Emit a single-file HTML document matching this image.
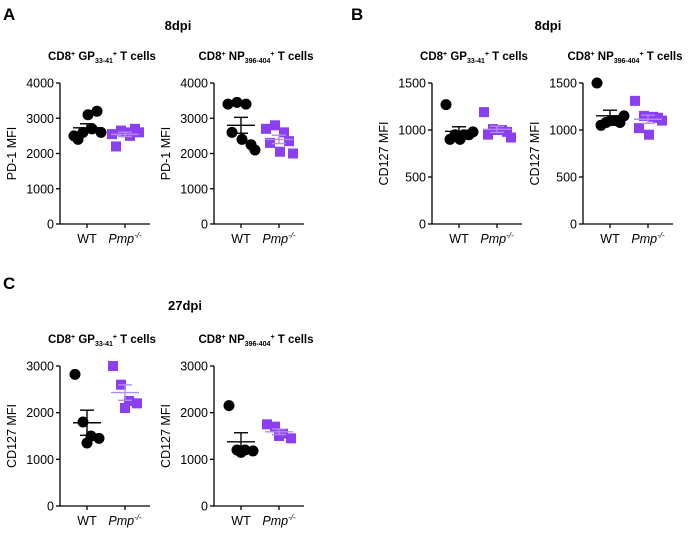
<!DOCTYPE html>
<html><head><meta charset="utf-8"><style>
body{margin:0;background:#fff;width:700px;height:531px;overflow:hidden}
svg{font-family:"Liberation Sans",Arial,sans-serif}
</style></head><body>
<svg id="fig" width="700" height="531">
<g font-weight="bold" font-size="17">
<text x="3" y="20">A</text>
<text x="351" y="20">B</text>
<text x="3" y="289">C</text>
</g>
<g font-weight="bold" font-size="13" text-anchor="middle">
<text x="178" y="30">8dpi</text>
<text x="548" y="30">8dpi</text>
<text x="185" y="310">27dpi</text>
</g>
</svg>
<script>
const panels=["a1","a2","b1","b2","c1","c2"];
const subtitles=["GP","NP","GP","NP","GP","NP"];
const yMax=[4000,4000,1500,1500,3000,3000];
const yTicks=[[0,1000,2000,3000,4000],[0,1000,2000,3000,4000],[0,500,1000,1500],[0,500,1000,1500],[0,1000,2000,3000],[0,1000,2000,3000]];
const yTitles=["PD-1 MFI","PD-1 MFI","CD127 MFI","CD127 MFI","CD127 MFI","CD127 MFI"];
const categories=["WT","Pmp"];
const wtA1=[2500,2600,2700,2600,2400,3100,3200];
const koA1=[2550,2650,2500,2600,2200,2600,2700];
const wtA2=[3400,3450,3400,2100,2600,2400,2250];
const koA2=[2700,2800,2600,2000,2300,2050,2350];
const wtB1=[1270,950,950,980,900,900,950];
const koB1=[1190,1010,1000,920,950,1000,980];
const wtB2=[1500,1080,1100,1150,1050,1100,1080];
const koB2=[1310,1150,1140,1100,1020,950,1130];
const wtC1=[2820,1800,1500,1450,1350];
const koC1=[3000,2600,2250,2200,2100];
const wtC2=[2150,1200,1200,1180,1150];
const koC2=[1750,1700,1550,1450,1500];
const wtSeries=[wtA1,wtA2,wtB1,wtB2,wtC1,wtC2];
const koSeries=[koA1,koA2,koB1,koB2,koC1,koC2];

const geom=[{ax:60,top:83,bot:224},{ax:214,top:83,bot:224},{ax:432,top:83,bot:224},{ax:583,top:83,bot:224},{ax:60,top:366,bot:506},{ax:214,top:366,bot:506}];
const jit7=[-13,-4,5,14,-9,1,10],jit5=[-12,-4,4,12,0];
const NS="http://www.w3.org/2000/svg";
const svg=document.getElementById('fig');
function mk(tag,attrs,parent){const e=document.createElementNS(NS,tag);for(const k in attrs)e.setAttribute(k,attrs[k]);(parent||svg).appendChild(e);return e;}
function stats(a){const m=a.reduce((s,v)=>s+v,0)/a.length;const sd=Math.sqrt(a.reduce((s,v)=>s+(v-m)*(v-m),0)/(a.length-1));return [m,sd/Math.sqrt(a.length)];}
panels.forEach((p,i)=>{
  const g=geom[i];const ax=g.ax;const xr=ax+90;
  const y=v=>g.bot-(v/yMax[i])*(g.bot-g.top);
  const xc=[ax+27,ax+65];
  const grp=mk('g',{});
  
  
  const st=mk('text',{x:ax+42,y:g.top-23,'font-size':'11.5','font-weight':'bold','text-anchor':'middle'},grp);
  
  
  const sub=subtitles[i]==="GP"?"33-41":"396-404";
  st.innerHTML='CD8<tspan font-size="7" dy="-4">+</tspan><tspan dy="4"> '+subtitles[i]+'</tspan><tspan font-size="7" dy="3">'+sub+'</tspan><tspan font-size="7" dy="-7">+</tspan><tspan dy="4"> T cells</tspan>';
  const yl=mk('line',{x1:ax,y1:g.top,x2:ax,y2:g.bot,stroke:'#000','stroke-width':1.3},grp);
  
  
  const xl=mk('line',{x1:ax,y1:g.bot,x2:xr,y2:g.bot,stroke:'#000','stroke-width':1.3},grp);
  
  
  yTicks[i].forEach(t=>{
    mk('line',{x1:ax-4,y1:y(t),x2:ax,y2:y(t),stroke:'#000','stroke-width':1.3},grp);
    const tl=mk('text',{x:ax-6,y:y(t)+4.5,'font-size':'12.5','text-anchor':'end'},grp);
    tl.textContent=t;
    
    
  });
  const yt=mk('text',{transform:`translate(${ax-44},${(g.top+g.bot)/2}) rotate(-90)`,'font-size':'12.5','text-anchor':'middle'},grp);
  yt.textContent=yTitles[i];
  
  
  categories.forEach((c,k)=>{
    mk('line',{x1:xc[k],y1:g.bot,x2:xc[k],y2:g.bot+4,stroke:'#000','stroke-width':1.3},grp);
    const xlab=mk('text',{x:xc[k],y:g.bot+19,'font-size':'12.5','text-anchor':'middle'},grp);
    if(c==="WT")xlab.textContent="WT";else xlab.innerHTML='<tspan font-style="italic">Pmp</tspan><tspan font-size="8" dy="-5" font-style="italic">-/-</tspan>';
    
    
  });
  [wtSeries[i],koSeries[i]].forEach((arr,k)=>{
    const col=k===0?'#000':'#8a3ff0';
    const jit=arr.length===7?jit7:jit5;
    arr.forEach((v,j)=>{
      let m;
      if(k===0){m=mk('circle',{cx:xc[0]+jit[j],cy:y(v),r:5.5,fill:col},grp);}
      else{m=mk('rect',{x:xc[1]+jit[j]-5,y:y(v)-5,width:10,height:10,fill:col},grp);}
      
    });
    const [mn,se]=stats(arr);
    const ec=k===0?'#000':'#b58af5';
    const mline=mk('line',{x1:xc[k]-14,y1:y(mn),x2:xc[k]+14,y2:y(mn),stroke:ec,'stroke-width':1.4},grp);
    
    
    mk('line',{x1:xc[k],y1:y(mn-se),x2:xc[k],y2:y(mn+se),stroke:ec,'stroke-width':1.4},grp);
    mk('line',{x1:xc[k]-7,y1:y(mn+se),x2:xc[k]+7,y2:y(mn+se),stroke:ec,'stroke-width':1.4},grp);
    mk('line',{x1:xc[k]-7,y1:y(mn-se),x2:xc[k]+7,y2:y(mn-se),stroke:ec,'stroke-width':1.4},grp);
  });
});
</script>
</body></html>
